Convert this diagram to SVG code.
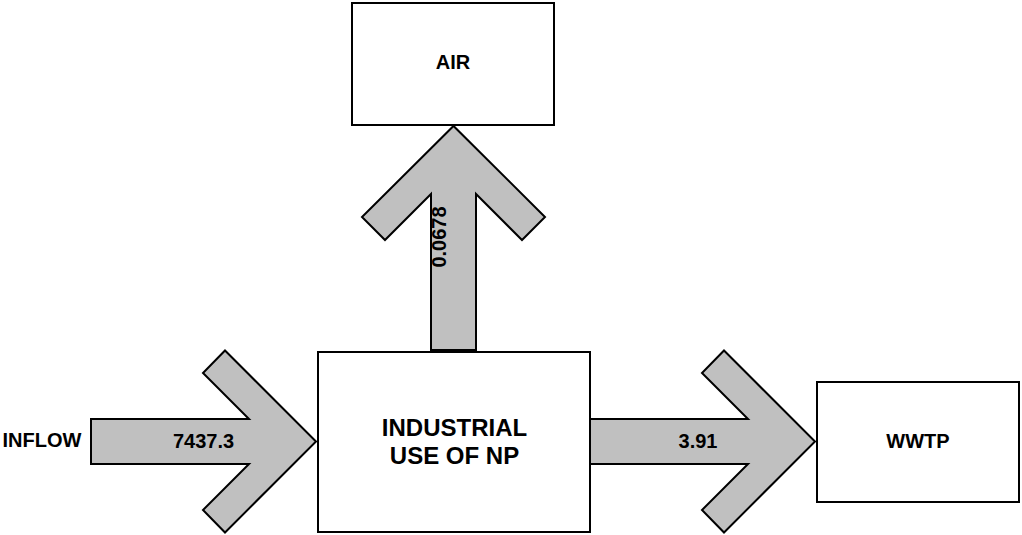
<svg xmlns="http://www.w3.org/2000/svg" width="1022" height="535" viewBox="0 0 1022 535">
<style>
.box{fill:#fff;stroke:#000;stroke-width:2}
.arr{fill:#c0c0c0;stroke:#000;stroke-width:2;stroke-linejoin:miter}
.t{font-family:"Liberation Sans",Arial,sans-serif;font-weight:bold;fill:#000;text-anchor:middle}
.s20{font-size:20px}
.s24{font-size:24px}
</style>
<rect width="1022" height="535" fill="#fff"/>
<g id="connectors">
<g id="flow-air">
<polygon class="arr" points="431,350 431,194 385,240 362,217 453.5,126 545,217 522,240 476,194 476,350"/>
<text class="t s20" transform="translate(446,237) rotate(-90)">0.0678</text>
</g>
<g id="flow-inflow">
<polygon class="arr" points="91,419 249,419 203,373 225,350.5 316,441.5 225,532.5 203,510 249,464 91,464"/>
<text class="t s20" x="203.5" y="448">7437.3</text>
</g>
<g id="flow-wwtp">
<polygon class="arr" points="590,419 748,419 702,373 724,350.5 815,441.5 724,532.5 702,510 748,464 590,464"/>
<text class="t s20" x="698" y="448">3.91</text>
</g>
</g>
<g id="node-air">
<rect class="box" x="352" y="3" width="202" height="122"/>
<text class="t s20" x="453" y="69">AIR</text>
</g>
<g id="node-industrial">
<rect class="box" x="318" y="352" width="272" height="180"/>
<text class="t s24" x="454.5" y="436">INDUSTRIAL</text>
<text class="t s24" x="454.5" y="464">USE OF NP</text>
</g>
<g id="node-wwtp">
<rect class="box" x="817" y="382" width="202" height="120"/>
<text class="t s20" x="918" y="448">WWTP</text>
</g>
<g id="node-inflow">
<text class="t s20" x="42" y="447">INFLOW</text>
</g>
</svg>
